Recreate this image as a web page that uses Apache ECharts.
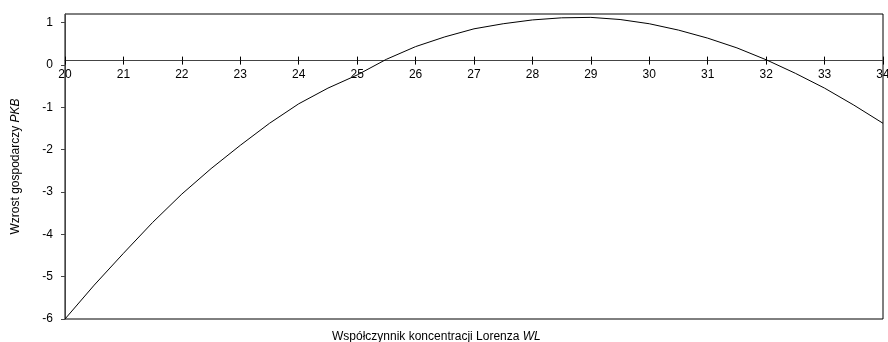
<!DOCTYPE html>
<html>
<head>
<meta charset="utf-8">
<script src="https://cdn.jsdelivr.net/npm/echarts@6/dist/echarts.min.js"></script>
<style>html,body{margin:0;padding:0;background:#fff}#c{width:888px;height:342px}</style>
</head>
<body>
<div id="c"></div>
<script>
const xValues = [20,20.5,21,21.5,22,22.5,23,23.5,24,24.5,25,25.5,26,26.5,27,27.5,28,28.5,29,29.5,30,30.5,31,31.5,32,32.5,33,33.5,34];
const yValues = [-6.00,-5.20,-4.45,-3.72,-3.05,-2.45,-1.90,-1.38,-0.92,-0.55,-0.24,0.13,0.43,0.66,0.85,0.97,1.06,1.11,1.12,1.07,0.97,0.82,0.63,0.40,0.12,-0.20,-0.55,-0.95,-1.38];
const yTickLabels = [-6,-5,-4,-3,-2,-1,0,1];
const xTickLabels = [20,21,22,23,24,25,26,27,28,29,30,31,32,33,34];
const xAxisTitle = 'Współczynnik koncentracji Lorenza ';
const xAxisTitleItalic = 'WL';
const yAxisTitle = 'Wzrost gospodarczy ';
const yAxisTitleItalic = 'PKB';
const axisCrossAt = 0.1;

const yMin = -6, yMax = 1.2;
const gridTop = 14, gridBottom = 23, H = 342;
const gridH = H - gridTop - gridBottom;
const xOffset = -gridH * (axisCrossAt - yMin) / (yMax - yMin);

const font = 'Liberation Sans, Arial, sans-serif';
const fs = 12;
const chart = echarts.init(document.getElementById('c'), null, {renderer: 'canvas'});
const data = xValues.map((x, i) => [x, yValues[i]]);

const xBase = {
  type: 'value', min: xTickLabels[0], max: xTickLabels[xTickLabels.length - 1], interval: 1,
  position: 'bottom', offset: xOffset, splitLine: {show: false}
};

chart.setOption({
  animation: false,
  backgroundColor: '#fff',
  title: {
    text: '{n|' + xAxisTitle + '}{i|' + xAxisTitleItalic + '}',
    left: 332, top: 331, padding: 0,
    textStyle: {
      fontWeight: 'normal',
      rich: {
        n: {fontFamily: font, fontSize: fs, color: '#000', fontWeight: 'normal'},
        i: {fontFamily: font, fontSize: fs, color: '#000', fontStyle: 'italic', fontWeight: 'normal'}
      }
    }
  },
  grid: {left: 65, right: 5, top: gridTop, bottom: gridBottom, show: true, borderColor: '#000', borderWidth: 1,
         containLabel: false, outerBoundsMode: 'none'},
  xAxis: [
    Object.assign({}, xBase, {
      axisLine: {show: true, onZero: false, lineStyle: {color: '#444', width: 1}},
      axisTick: {show: true, inside: false, length: 4, lineStyle: {color: '#000'}},
      axisLabel: {show: true, margin: 8, fontFamily: font, fontSize: fs, color: '#000',
                  customValues: xTickLabels, hideOverlap: false}
    }),
    Object.assign({}, xBase, {
      axisLine: {show: false, onZero: false},
      axisTick: {show: true, inside: true, length: 4, lineStyle: {color: '#000'}},
      axisLabel: {show: false}
    })
  ],
  yAxis: {
    type: 'value', min: yMin, max: yMax, interval: 1,
    splitLine: {show: false},
    axisLine: {show: true, lineStyle: {color: '#444', width: 1}},
    axisTick: {show: true, inside: false, length: 4, lineStyle: {color: '#444'}, customValues: yTickLabels},
    axisLabel: {margin: 12, fontFamily: font, fontSize: fs, color: '#000', customValues: yTickLabels},
    name: '{n|' + yAxisTitle + '}{i|' + yAxisTitleItalic + '}',
    nameLocation: 'middle', nameRotate: 90, nameGap: 43,
    nameTextStyle: {
      rich: {
        n: {fontFamily: font, fontSize: fs, color: '#000'},
        i: {fontFamily: font, fontSize: fs, color: '#000', fontStyle: 'italic'}
      }
    }
  },
  series: [{
    type: 'line', xAxisIndex: 0, data: data, showSymbol: false, smooth: false,
    lineStyle: {color: '#000', width: 1}, silent: true
  }]
});
</script>
</body>
</html>
